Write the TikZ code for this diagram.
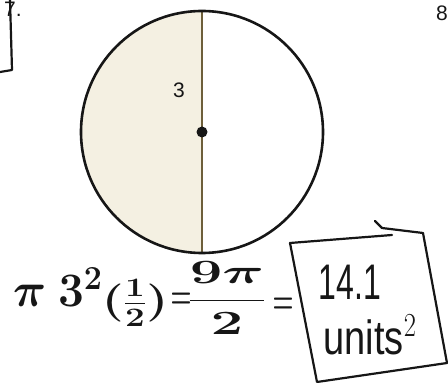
\RequirePackage{fix-cm}
\documentclass[tikz,border=0pt]{standalone}
\usepackage{fontspec}
\usepackage{amsmath}
\setsansfont{Liberation Sans}
\usetikzlibrary{positioning}
\definecolor{ink}{HTML}{161616}
\definecolor{olive}{HTML}{6E5F3A}
\definecolor{sand}{HTML}{F4F0E2}
\tikzset{
  rim/.style={
    draw=ink,
    line width=2.6pt
  },
  diameter/.style={
    draw=olive,
    line width=1.3pt
  },
  halfshade/.style={
    fill=sand
  },
  printed/.style={
    text=ink,
    font=\sffamily\fontsize{21}{24}\selectfont,
    inner sep=0pt
  },
  hand/.style={
    text=ink,
    font=\fontsize{40}{46}\selectfont\boldmath,
    inner sep=0pt
  },
  handbox/.style={
    draw=ink,
    line width=2.2pt,
    line join=round,
    line cap=round
  },
  answer/.style={
    text=ink,
    font=\sffamily\fontsize{40}{46}\selectfont,
    inner sep=0pt
  }
}

\begin{document}
\begin{tikzpicture}[x=1pt,y=1pt]
  \useasboundingbox (0,0) rectangle (448,383);

  % Neighbouring problems
  \node[printed, anchor=base west] (numSeven) at (4,366) {7.};
  \node[printed, anchor=base west] (numEight) at (436,362) {8};
  \draw[handbox] (10,383) -- (12,313) -- (0,311);

  % Circle with the left half shaded
  \coordinate (ctr) at (202,251);
  \fill[halfshade] (202,372) arc[start angle=90, end angle=270, radius=121] -- cycle;
  \draw[diameter] (202,372) -- (202,130);
  \draw[rim] (ctr) circle[radius=121];
  \fill[ink] (ctr) circle (5.5pt);
  \node[printed] (radius) at (179,293) {3};

  % Worked answer
  \node[hand, anchor=base west] (areaSq) at (13,76)
    {\scalebox{1.15}[1.2]{$\pi\mkern4mu 3^{2}$}};
  \node[hand] (half) at (135,80) {\scalebox{1.25}[0.95]{$(\tfrac{1}{2})$}};
  \node[hand] (eqOne) at (181,82) {\scalebox{0.6}[1]{$=$}};
  \node[hand] (areaFrac) at (227,85) {\scalebox{1.45}[0.85]{$\dfrac{9\pi}{2}$}};
  \node[hand] (eqTwo) at (283,77) {\scalebox{0.6}[1]{$=$}};

  \draw[handbox] (290,140) -- (392,148);
  \draw[handbox] (375,162) -- (382,155) -- (423,150) -- (447,20) -- (317,1) -- (290,140);
  \node[answer] (value) at (350,101) {\scalebox{0.8}[1.25]{14.1}};
  \node[answer] (unit) at (370,48) {\scalebox{0.95}[1.2]{units$^{2}$}};
\end{tikzpicture}
\end{document}
